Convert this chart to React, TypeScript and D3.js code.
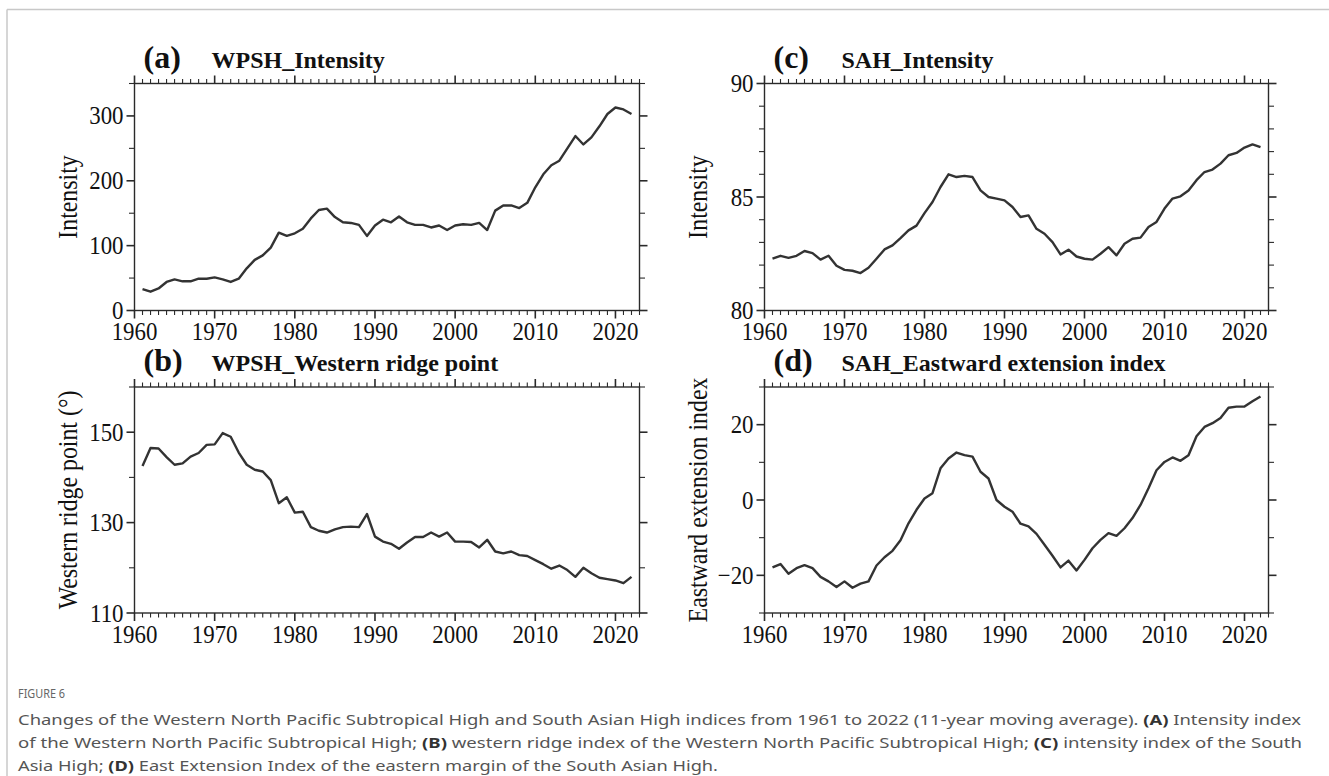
import React from "react";
import * as d3 from "d3";

const years: number[] = d3.range(1961, 2023);

const wpshIntensity: number[] = [
  33, 29, 34, 44, 48, 45, 45, 49, 49, 51,
  48, 44, 49, 65, 78, 85, 97, 120, 115, 119,
  126, 142, 155, 157, 144, 136, 135, 132, 115, 131,
  140, 136, 145, 136, 132, 132, 128, 131, 124, 131,
  133, 132, 135, 124, 154, 162, 162, 158, 166, 190,
  210, 224, 231, 250, 269, 256, 267, 284, 303, 313,
  310, 303,
];

const wpshWesternRidge: number[] = [
  142.5, 146.5, 146.4, 144.5, 142.8, 143.1, 144.6, 145.4, 147.2, 147.3,
  149.8, 149.0, 145.5, 142.8, 141.7, 141.3, 139.4, 134.3, 135.6, 132.2,
  132.4, 129.0, 128.2, 127.8, 128.5, 129.0, 129.1, 129.0, 131.9, 126.9,
  125.8, 125.3, 124.2, 125.6, 126.8, 126.8, 127.8, 126.9, 127.8, 125.8,
  125.8, 125.7, 124.5, 126.2, 123.6, 123.2, 123.6, 122.8, 122.6, 121.7,
  120.8, 119.8, 120.5, 119.5, 118.0, 120.0, 118.8, 117.8, 117.5, 117.2,
  116.6, 118.0,
];

const sahIntensity: number[] = [
  82.28, 82.41, 82.32, 82.41, 82.62, 82.53, 82.24, 82.41, 81.97, 81.79,
  81.75, 81.65, 81.88, 82.28, 82.69, 82.87, 83.19, 83.53, 83.74, 84.29,
  84.78, 85.44, 86.0, 85.88, 85.93, 85.88, 85.29, 85.0, 84.93, 84.85,
  84.56, 84.12, 84.19, 83.6, 83.38, 83.01, 82.47, 82.68, 82.38, 82.28,
  82.24, 82.5, 82.79, 82.43, 82.94, 83.16, 83.21, 83.68, 83.9, 84.49,
  84.93, 85.03, 85.29, 85.74, 86.1, 86.21, 86.47, 86.84, 86.94, 87.18,
  87.32, 87.2,
];

const sahEastward: number[] = [
  -17.9, -17.0, -19.6, -18.1, -17.3, -18.1, -20.4, -21.6, -23.1, -21.6,
  -23.3, -22.2, -21.6, -17.4, -15.2, -13.5, -10.7, -6.2, -2.6, 0.4,
  1.8, 8.4, 11.0, 12.6, 11.9, 11.5, 7.5, 5.7, 0.0, -1.8,
  -3.1, -6.3, -7.0, -9.0, -11.9, -14.8, -17.9, -16.1, -18.7, -15.9,
  -12.8, -10.6, -8.8, -9.5, -7.5, -4.8, -1.3, 3.1, 7.9, 10.1,
  11.3, 10.4, 11.9, 16.9, 19.4, 20.4, 21.8, 24.5, 24.8, 24.8,
  26.2, 27.5,
];

const xMajorTicks: number[] = [1960, 1970, 1980, 1990, 2000, 2010, 2020];
const xDomain: [number, number] = [1960, 2023];

const panelLetters: string[] = ["(a)", "(b)", "(c)", "(d)"];
const panelTitles: string[] = [
  "WPSH_Intensity",
  "WPSH_Western ridge point",
  "SAH_Intensity",
  "SAH_Eastward extension index",
];
const yTitles: string[] = [
  "Intensity",
  "Western ridge point (°)",
  "Intensity",
  "Eastward extension index",
];
const yDomains: [number, number][] = [
  [0, 350],
  [110, 160],
  [80, 90],
  [-30, 30],
];
const yMajorTicks: number[][] = [
  [0, 100, 200, 300],
  [110, 130, 150],
  [80, 85, 90],
  [-20, 0, 20],
];
const yMinorStep: number[] = [50, 10, 1, 10];
const seriesList: number[][] = [wpshIntensity, wpshWesternRidge, sahIntensity, sahEastward];

const captionLines = [
  [
    { t: "Changes of the Western North Pacific Subtropical High and South Asian High indices from 1961 to 2022 (11-year moving average). ", b: false },
    { t: "(A)", b: true },
    { t: " Intensity index", b: false },
  ],
  [
    { t: "of the Western North Pacific Subtropical High; ", b: false },
    { t: "(B)", b: true },
    { t: " western ridge index of the Western North Pacific Subtropical High; ", b: false },
    { t: "(C)", b: true },
    { t: " intensity index of the South", b: false },
  ],
  [
    { t: "Asia High; ", b: false },
    { t: "(D)", b: true },
    { t: " East Extension Index of the eastern margin of the South Asian High.", b: false },
  ],
];

const SERIF = "'Liberation Serif', 'Times New Roman', serif";
const SANS = "'Noto Sans', 'Open Sans', sans-serif";
const AX = "#2a2a2a";
const SX = 0.88;

type Box = { left: number; right: number; top: number; bottom: number };
const boxes: Box[] = [
  { left: 134.5, right: 639.5, top: 83.5, bottom: 310.5 },
  { left: 134.5, right: 639.5, top: 387, bottom: 613 },
  { left: 764.5, right: 1268.5, top: 83.5, bottom: 310.5 },
  { left: 764.5, right: 1268.5, top: 387, bottom: 613 },
];

function Panel({ idx }: { idx: number }) {
  const b = boxes[idx];
  const x = d3.scaleLinear().domain(xDomain).range([b.left, b.right]);
  const y = d3.scaleLinear().domain(yDomains[idx]).range([b.bottom, b.top]);
  const data = seriesList[idx];
  const line = d3
    .line<number>()
    .x((_, i) => x(years[i]))
    .y((d) => y(d));
  const xAll = d3.range(xDomain[0], xDomain[1] + 1);
  const [y0, y1] = yDomains[idx];
  const yAll = d3.range(y0, y1 + 1e-9, yMinorStep[idx]);
  const MAJ = 8;
  const MIN = 4.5;
  const isXMaj = (v: number) => xMajorTicks.includes(v);
  const isYMaj = (v: number) => yMajorTicks[idx].some((m) => Math.abs(m - v) < 1e-6);
  return (
    <g>
      <rect x={b.left} y={b.top} width={b.right - b.left} height={b.bottom - b.top} fill="none" stroke={AX} strokeWidth={1.4} />
      {xAll.map((v) => {
        const L = isXMaj(v) ? MAJ : MIN;
        const w = isXMaj(v) ? 1.6 : 1.1;
        return (
          <g key={"x" + v}>
            <line x1={x(v)} x2={x(v)} y1={b.top} y2={b.top - L} stroke={AX} strokeWidth={w} />
            <line x1={x(v)} x2={x(v)} y1={b.bottom} y2={b.bottom + L} stroke={AX} strokeWidth={w} />
          </g>
        );
      })}
      {yAll.map((v) => {
        const L = isYMaj(v) ? MAJ : MIN + 1;
        const w = isYMaj(v) ? 1.6 : 1.1;
        return (
          <g key={"y" + v}>
            <line x1={b.left} x2={b.left - L} y1={y(v)} y2={y(v)} stroke={AX} strokeWidth={w} />
            <line x1={b.right} x2={b.right + L} y1={y(v)} y2={y(v)} stroke={AX} strokeWidth={w} />
          </g>
        );
      })}
      {xMajorTicks.map((v) => (
        <text
          key={"xl" + v}
          transform={`translate(${x(v)},${b.bottom + 29.5}) scale(${SX},1)`}
          textAnchor="middle"
          fontFamily={SERIF}
          fontSize={26}
          fill="#111"
        >
          {v}
        </text>
      ))}
      {yMajorTicks[idx].map((v) => (
        <text
          key={"yl" + v}
          transform={`translate(${b.left - 11},${y(v) + 8.5}) scale(${SX},1)`}
          textAnchor="end"
          fontFamily={SERIF}
          fontSize={26}
          fill="#111"
        >
          {v < 0 ? "\u2212" + Math.abs(v) : String(v)}
        </text>
      ))}
      <text
        transform={`translate(${b.left - 57.5},${(b.top + b.bottom) / 2}) rotate(-90) scale(${SX + 0.02},1)`}
        textAnchor="middle"
        fontFamily={SERIF}
        fontSize={26.5}
        fill="#111"
      >
        {yTitles[idx]}
      </text>
      <text x={b.left + 9} y={b.top - 16} fontFamily={SERIF} fontWeight="bold" fontSize={32} fill="#111">
        {panelLetters[idx]}
      </text>
      <text x={b.left + 77} y={b.top - 16} fontFamily={SERIF} fontWeight="bold" fontSize={24} fill="#111">
        {panelTitles[idx]}
      </text>
      <path d={line(data) || ""} fill="none" stroke="#333" strokeWidth={2.4} strokeLinejoin="round" />
    </g>
  );
}

const captionLengths: number[] = [1283, 1284, 700];

export default function App() {
  return (
    <svg
      width={1329}
      height={776}
      style={{ position: "absolute", left: 0, top: 0, display: "block", background: "#fff" }}
    >
      <rect x={0} y={0} width={1329} height={776} fill="#fff" />
      <line x1={7} y1={9.5} x2={1329} y2={9.5} stroke="#c8c8c8" strokeWidth={1.5} />
      <line x1={7} y1={9.5} x2={7} y2={776} stroke="#c8c8c8" strokeWidth={1.5} />
      {[0, 1, 2, 3].map((i) => (
        <Panel key={i} idx={i} />
      ))}
      <text x={18} y={698} fontFamily={SANS} fontSize={12} fill="#666" textLength={47} lengthAdjust="spacingAndGlyphs">
        FIGURE 6
      </text>
      {captionLines.map((ln, i) => (
        <text
          key={i}
          x={18}
          y={724.5 + i * 23.2}
          fontFamily={SANS}
          fontSize={15}
          fill="#555"
          textLength={captionLengths[i]}
          lengthAdjust="spacingAndGlyphs"
        >
          {ln.map((s, j) => (
            <tspan key={j} fontWeight={s.b ? "bold" : "normal"} fill={s.b ? "#333" : "#555"}>
              {s.t}
            </tspan>
          ))}
        </text>
      ))}
    </svg>
  );
}
